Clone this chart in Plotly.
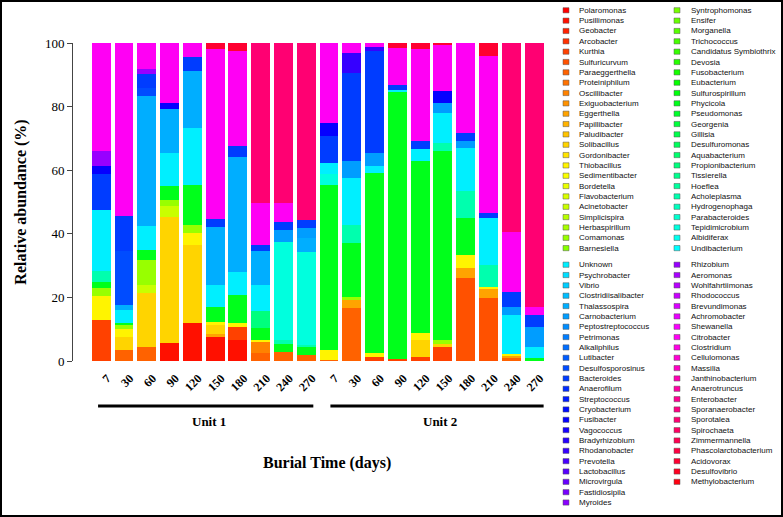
import colorsys
import plotly.graph_objects as go

# ---------------- data ----------------
samples = ["7", "30", "60", "90", "120", "150", "180", "210", "240", "270"]
tick_labels = samples + samples
units = ["Unit 1", "Unit 2"]

genera = [
    "Polaromonas", "Pusillimonas", "Geobacter", "Arcobacter", "Kurthia", "Sulfuricurvum",
    "Paraeggerthella", "Proteiniphilum", "Oscillibacter", "Exiguobacterium", "Eggerthella",
    "Papillibacter", "Paludibacter", "Solibacillus", "Gordonibacter", "Thiobacillus",
    "Sedimentibacter", "Bordetella", "Flavobacterium", "Acinetobacter", "Simplicispira",
    "Herbaspirillum", "Comamonas", "Barnesiella",
    "Syntrophomonas", "Ensifer", "Morganella", "Trichococcus", "Candidatus Symbiothrix",
    "Devosia", "Fusobacterium", "Eubacterium", "Sulfurospirillum", "Phycicola", "Pseudomonas",
    "Georgenia", "Gillisia", "Desulfuromonas", "Aquabacterium", "Propionibacterium",
    "Tissierella", "Hoeflea", "Acholeplasma", "Hydrogenophaga", "Parabacteroides",
    "Tepidimicrobium", "Albidiferax", "Undibacterium",
    "Unknown", "Psychrobacter", "Vibrio", "Clostridiisalibacter", "Thalassospira",
    "Carnobacterium", "Peptostreptococcus", "Petrimonas", "Alkaliphilus", "Lutibacter",
    "Desulfosporosinus", "Bacteroides", "Anaerofilum", "Streptococcus", "Cryobacterium",
    "Fusibacter", "Vagococcus", "Bradyrhizobium", "Rhodanobacter", "Prevotella",
    "Lactobacillus", "Microvirgula", "Fastidiosipila", "Myroides",
    "Rhizobium", "Aeromonas", "Wohlfahrtiimonas", "Rhodococcus", "Brevundimonas",
    "Achromobacter", "Shewanella", "Citrobacter", "Clostridium", "Cellulomonas", "Massilia",
    "Janthinobacterium", "Anaerotruncus", "Enterobacter", "Sporanaerobacter", "Sporotalea",
    "Spirochaeta", "Zimmermannella", "Phascolarctobacterium", "Acidovorax", "Desulfovibrio",
    "Methylobacterium",
]

# relative abundance (%) per sample: Unit 1 (7..270), then Unit 2 (7..270)
pusillimonas = [0, 0, 0, 5.6, 11.9, 7.7, 6.6, 0, 0, 0, 0, 0, 0, 0, 0, 0, 0, 0, 0, 0]
kurthia = [12.9, 0, 0, 0, 0, 0, 4.2, 0, 0, 0, 0, 0, 1.4, 0.5, 1.4, 4.5, 0, 0, 0, 0]
sulfuricurvum = [0, 0, 0, 0, 0, 0, 0, 0, 0, 0, 0, 0, 0, 0, 0, 0, 26.0, 19.7, 0, 0]
paraeggerthella = [0, 3.5, 4.5, 0, 0, 0, 0, 2.4, 2.9, 1.9, 0.3, 16.6, 0, 0, 0, 0, 0, 0, 0.8, 0.3]
oscillibacter = [0, 0, 0, 0, 0, 0, 0, 3.7, 0, 0, 0, 0, 0, 0, 0, 0, 0, 0, 0, 0]
eggerthella = [0, 0, 0, 0, 0, 0.7, 0, 0, 0, 0, 0, 2.6, 0, 0, 0, 0, 3.2, 3.2, 1.0, 0]
solibacillus = [0, 4.2, 16.8, 39.8, 24.7, 2.9, 0, 0, 0, 0, 0, 0, 0, 0, 5.3, 1.0, 0, 0, 0, 0]
thiobacillus = [7.6, 2.3, 0, 0, 3.7, 1.0, 1.0, 0.5, 0, 0, 3.2, 0, 1.0, 0, 2.1, 0, 4.2, 0.5, 0.5, 0]
acinetobacter = [0, 0, 2.6, 3.2, 0, 0, 0, 0, 0, 0, 0, 0, 0, 0, 0, 0, 0, 0, 0, 0]
comamonas = [2.4, 1.2, 7.9, 2.1, 2.6, 0, 0, 0, 0, 0, 0, 1.0, 0, 0, 0, 1.0, 0, 0, 0, 0]
phycicola = [2.1, 0.7, 3.2, 4.2, 12.6, 4.7, 8.9, 3.7, 2.6, 2.6,
             52.0, 16.8, 56.7, 84.3, 54.1, 59.4, 11.6, 0, 0, 0.5]
propionibacterium = [0, 0, 0, 0, 0, 0, 0, 5.3, 0, 0, 0, 0, 0, 0, 0, 0, 0, 0, 0, 0]
acholeplasma = [3.2, 0, 0, 0, 0, 0, 0, 0, 1.0, 0.5, 0, 5.8, 0, 0, 0, 2.6, 8.4, 6.8, 0, 0]
tepidimicrobium = [0, 0, 0, 0, 0, 0, 0, 0, 31.0, 29.4, 3.2, 0, 0, 0, 0, 0, 0, 0, 0, 0]
unknown = [19.4, 4.2, 7.4, 10.5, 17.9, 6.8, 7.4, 8.4, 0, 0,
           3.7, 14.7, 2.1, 0.5, 3.7, 9.5, 13.7, 14.7, 12.1, 3.7]
thalassospira = [0, 1.6, 40.9, 13.7, 17.9, 18.4, 36.2, 10.5, 0, 4.2, 0, 0, 0, 0, 0, 0, 0, 0, 0, 0]
carnobacterium = [0, 0, 0, 0, 0, 0, 0, 0, 3.7, 3.2, 0, 5.3, 4.2, 0, 0, 3.2, 2.1, 0, 2.6, 6.3]
desulfosporosinus = [0, 16.8, 2.6, 0, 0, 0, 0, 0, 0, 0, 0, 0, 0, 0, 0, 0, 0, 0, 0, 0]
bacteroides = [11.2, 11.0, 4.2, 0, 4.2, 2.6, 3.2, 2.1, 2.6, 2.6,
               8.4, 27.8, 32.0, 1.6, 2.6, 0, 2.6, 1.6, 4.7, 3.7]
fusibacter = [2.4, 0, 0, 2.1, 0, 0, 0, 0, 0, 0, 4.2, 0, 0, 0, 0, 3.7, 0, 0, 0, 0]
rhodanobacter = [0, 0, 0, 0, 0, 0, 0, 0, 0, 0, 0, 6.3, 1.3, 0, 0, 0, 0, 0, 0, 0]
rhizobium = [4.7, 0, 1.6, 0, 0, 0, 0, 0, 0, 0, 0, 0, 0, 0, 0, 0, 0, 0, 0, 0]
citrobacter = [34.1, 54.5, 8.3, 18.8, 4.5, 53.2, 30.0, 13.1, 5.8, 0,
               25.0, 3.1, 1.3, 11.6, 28.8, 14.5, 28.2, 49.4, 18.9, 2.6]
sporotalea = [0, 0, 0, 0, 0, 0, 0, 50.3, 50.4, 55.6, 0, 0, 0, 0, 0, 0, 0, 0, 59.4, 82.9]
acidovorax = [0, 0, 0, 0, 0, 2.0, 2.5, 0, 0, 0, 0, 0, 0, 1.5, 2.0, 0.6, 0, 4.1, 0, 0]

abundance = {
    "Pusillimonas": pusillimonas, "Kurthia": kurthia, "Sulfuricurvum": sulfuricurvum,
    "Paraeggerthella": paraeggerthella, "Oscillibacter": oscillibacter,
    "Eggerthella": eggerthella, "Solibacillus": solibacillus, "Thiobacillus": thiobacillus,
    "Acinetobacter": acinetobacter, "Comamonas": comamonas, "Phycicola": phycicola,
    "Propionibacterium": propionibacterium, "Acholeplasma": acholeplasma,
    "Tepidimicrobium": tepidimicrobium, "Unknown": unknown, "Thalassospira": thalassospira,
    "Carnobacterium": carnobacterium, "Desulfosporosinus": desulfosporosinus,
    "Bacteroides": bacteroides, "Fusibacter": fusibacter, "Rhodanobacter": rhodanobacter,
    "Rhizobium": rhizobium, "Citrobacter": citrobacter, "Sporotalea": sporotalea,
    "Acidovorax": acidovorax,
}

# ---------------- layout helpers ----------------
W, H = 783, 517
ML, MR, MT, MB = 73, 233, 43, 156
PW, PH = W - ML - MR, H - MT - MB


def px(x):
    return (x - ML) / PW


def py(y):
    return (H - MB - y) / PH


n = len(genera)


def rainbow(i):
    r, g, b = colorsys.hsv_to_rgb(i / n, 1, 1)
    return f"rgb({round(r * 255)},{round(g * 255)},{round(b * 255)})"


SERIF = "Liberation Serif, Times New Roman, serif"
SANS = "Liberation Sans, Arial, sans-serif"

fig = go.Figure()
xs = list(range(len(tick_labels)))
for i, name in enumerate(genera):
    if name in abundance:
        fig.add_trace(go.Bar(x=xs, y=abundance[name], name=name,
                             marker=dict(color=rainbow(i), line=dict(width=0)),
                             showlegend=False))

shapes = []
annotations = []

# manual legend (4 columns in 2 blocks)
for i, name in enumerate(genera):
    block = 0 if i < 48 else 1
    j = i - 48 * block
    col, row = divmod(j, 24)
    y0 = 10.3 if block == 0 else 264.7
    yc = y0 + row * 10.34
    sx = 566 if col == 0 else 677
    tx = 577 if col == 0 else 689
    shapes.append(dict(type="rect", xref="paper", yref="paper",
                       x0=px(sx - 3), x1=px(sx + 3), y0=py(yc + 2.6), y1=py(yc - 2.6),
                       fillcolor=rainbow(i), line=dict(color="#555555", width=0.5)))
    annotations.append(dict(text=name, xref="paper", yref="paper", x=px(tx), y=py(yc),
                            xanchor="left", yanchor="middle", showarrow=False,
                            font=dict(family=SANS, size=8, color="#111111")))

# unit lines and labels
unit_spans = [(-0.14, 9.31), (10.06, 19.42)]
for (a, b), lab in zip(unit_spans, units):
    shapes.append(dict(type="line", xref="x", yref="paper", x0=a, x1=b,
                       y0=py(406), y1=py(406), line=dict(color="black", width=3)))
    annotations.append(dict(text=f"<b>{lab}</b>", xref="x", yref="paper", x=(a + b) / 2 + 0.15,
                            y=py(421), xanchor="center", yanchor="middle", showarrow=False,
                            font=dict(family=SERIF, size=13, color="black")))

annotations.append(dict(text="<b>Burial Time (days)</b>", xref="paper", yref="paper",
                        x=px(327), y=py(463), xanchor="center", yanchor="middle",
                        showarrow=False, font=dict(family=SERIF, size=16, color="black")))

# outer frame
shapes.append(dict(type="rect", xref="paper", yref="paper", x0=px(1), x1=px(782),
                   y0=py(516), y1=py(1), line=dict(color="black", width=2)))

fig.update_layout(
    width=W, height=H,
    margin=dict(l=ML, r=MR, t=MT, b=MB, autoexpand=False),
    barmode="stack", bargap=0.17,
    paper_bgcolor="white", plot_bgcolor="white",
    shapes=shapes, annotations=annotations,
    showlegend=False,
    xaxis=dict(range=[-1.24, 19.7], tickvals=xs, ticktext=[f"<b>{t}</b>" for t in tick_labels],
               tickangle=-45,
               showline=False, showgrid=False, zeroline=False, ticks="",
               tickfont=dict(family=SERIF, size=12, color="black"),
               ticklabelstandoff=7, ticklabelshift=6),
    yaxis=dict(range=[0, 100], tickvals=[0, 20, 40, 60, 80, 100],
               showline=True, linecolor="#444444", linewidth=1,
               ticks="outside", ticklen=5, tickcolor="#444444",
               showgrid=False, zeroline=False,
               tickfont=dict(family=SERIF, size=13, color="black"),
               tickprefix="<b>", ticksuffix="</b>",
               title=dict(text="<b>Relative abundance (%)</b>", standoff=14,
                          font=dict(family=SERIF, size=16, color="black"))),
)

fig.write_html("out.html")
